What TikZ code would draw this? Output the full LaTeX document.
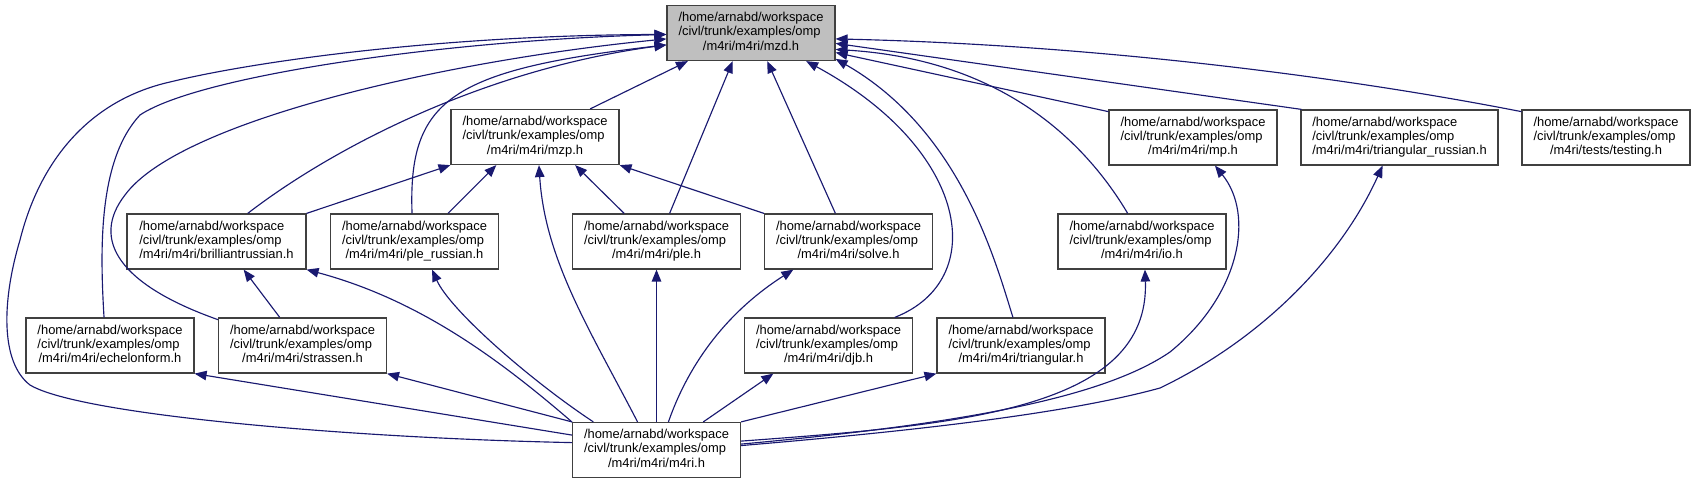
\documentclass[tikz,border=0pt]{standalone}
\usepackage{fontspec}
\setmainfont{Liberation Sans}
\usepackage{xcolor}
\definecolor{edge}{HTML}{191970}
\definecolor{frame}{HTML}{404040}
\definecolor{cur}{HTML}{BFBFBF}
\usetikzlibrary{arrows.meta}
\newcommand{\hpath}[2][m4ri/m4ri]{\begin{tabular}{@{}l@{}}/home/arnabd/workspace\\/civl/trunk/examples/omp\\\multicolumn{1}{@{}c@{}}{/#1/#2}\end{tabular}}
\tikzset{
  >={Triangle[length=6.8pt,width=5.4pt]},
  box/.style={draw=frame,fill=white,line width=0.7pt,minimum width=3.36cm,minimum height=1.1cm,inner sep=0pt,font=\fontsize{7.35}{8.1}\selectfont},
  cbox/.style={box,fill=cur},
  arr/.style={->,draw=edge,line width=0.65pt},
}
\begin{document}
\begin{tikzpicture}[x=0.02cm,y=-0.02cm]
\useasboundingbox (0,0) rectangle (1696,483);
\node[cbox] (mzd) at (751,33) {\hpath{mzd.h}};
\node[box] (mzp) at (535,137) {\hpath{mzp.h}};
\node[box] (mp) at (1193,137.5) {\hpath{mp.h}};
\node[box,minimum width=3.94cm] (trirus) at (1399.5,137.5) {\hpath{triangular\_russian.h}};
\node[box] (testing) at (1606,137.5) {\hpath[m4ri/tests]{testing.h}};
\node[box,minimum width=3.58cm] (brill) at (216.5,241.5) {\hpath{brilliantrussian.h}};
\node[box] (plerus) at (414.5,241.5) {\hpath{ple\_russian.h}};
\node[box] (ple) at (656.5,241.5) {\hpath{ple.h}};
\node[box] (solve) at (848.5,241.5) {\hpath{solve.h}};
\node[box] (io) at (1142,241.5) {\hpath{io.h}};
\node[box] (echelon) at (110,345.5) {\hpath{echelonform.h}};
\node[box] (strassen) at (302.5,345.5) {\hpath{strassen.h}};
\node[box] (djb) at (828.5,345.5) {\hpath{djb.h}};
\node[box] (tri) at (1021,345.5) {\hpath{triangular.h}};
\node[box] (m4ri) at (656.5,450) {\hpath{m4ri.h}};
% included by mzd.h
\draw[arr] (mzp.27) -- (mzd.204);
\draw[arr] (ple.65) -- (mzd.237);
\draw[arr] (solve.115) -- (mzd.300);
\draw[arr] (djb.23) .. controls (990,280) and (970,150) .. (mzd.-27);
\draw[arr] (tri.106) .. controls (995,260) and (960,130) .. (mzd.-17);
\draw[arr] (io.117) .. controls (1090,150) and (1010,60) .. (mzd.-11);
\draw[arr] (mp.163) -- (mzd.-13);
\draw[arr] (trirus.164) -- (mzd.-7);
\draw[arr] (testing.163) .. controls (1350,78) and (1100,45) .. (mzd.-4);
\draw[arr] (brill.42) .. controls (330,150) and (480,70) .. (mzd.188);
\draw[arr] (plerus.95) .. controls (408,100) and (450,70) .. (mzd.188);
\draw[arr] (strassen.163) .. controls (120,285) and (90,240) .. (125,195) .. controls (180,120) and (450,60) .. (mzd.184);
\draw[arr] (echelon.102) .. controls (100,250) and (98,160) .. (140,115) .. controls (200,75) and (450,40) .. (mzd.181);
\draw[arr] (m4ri.175) .. controls (350,438) and (80,415) .. (30,385) .. controls (0,362) and (2,300) .. (20,240) .. controls (40,160) and (90,100) .. (170,82) .. controls (260,60) and (450,35) .. (mzd.181);
% included by mzp.h
\draw[arr] (brill.north east) -- (mzp.south west);
\draw[arr] (plerus.40) -- (mzp.216);
\draw[arr] (ple.139) -- (mzp.-35);
\draw[arr] (solve.north west) -- (mzp.south east);
\draw[arr] (m4ri.124) .. controls (590,330) and (545,260) .. (mzp.-82);
% the rest
\draw[arr] (strassen.129) -- (brill.-46);
\draw[arr] (m4ri.north west) .. controls (500,360) and (420,300) .. (brill.south east);
\draw[arr] (m4ri.156) .. controls (530,380) and (450,310) .. (plerus.-58);
\draw[arr] (m4ri) -- (ple);
\draw[arr] (m4ri.67) .. controls (690,360) and (730,310) .. (solve.207);
\draw[arr] (m4ri.31) -- (djb.207);
\draw[arr] (m4ri.north east) -- (tri.south west);
\draw[arr] (m4ri.6) .. controls (960,425) and (1150,410) .. (io.-84);
\draw[arr] (m4ri.4) .. controls (950,425) and (1100,400) .. (1170,352) .. controls (1240,295) and (1255,215) .. (mp.-52);
\draw[arr] (m4ri.3) .. controls (950,428) and (1080,410) .. (1160,388) .. controls (1260,340) and (1340,260) .. (trirus.239);
\draw[arr] (m4ri.170) -- (echelon.south east);
\draw[arr] (m4ri.north west) -- (strassen.south east);
\end{tikzpicture}
\end{document}
